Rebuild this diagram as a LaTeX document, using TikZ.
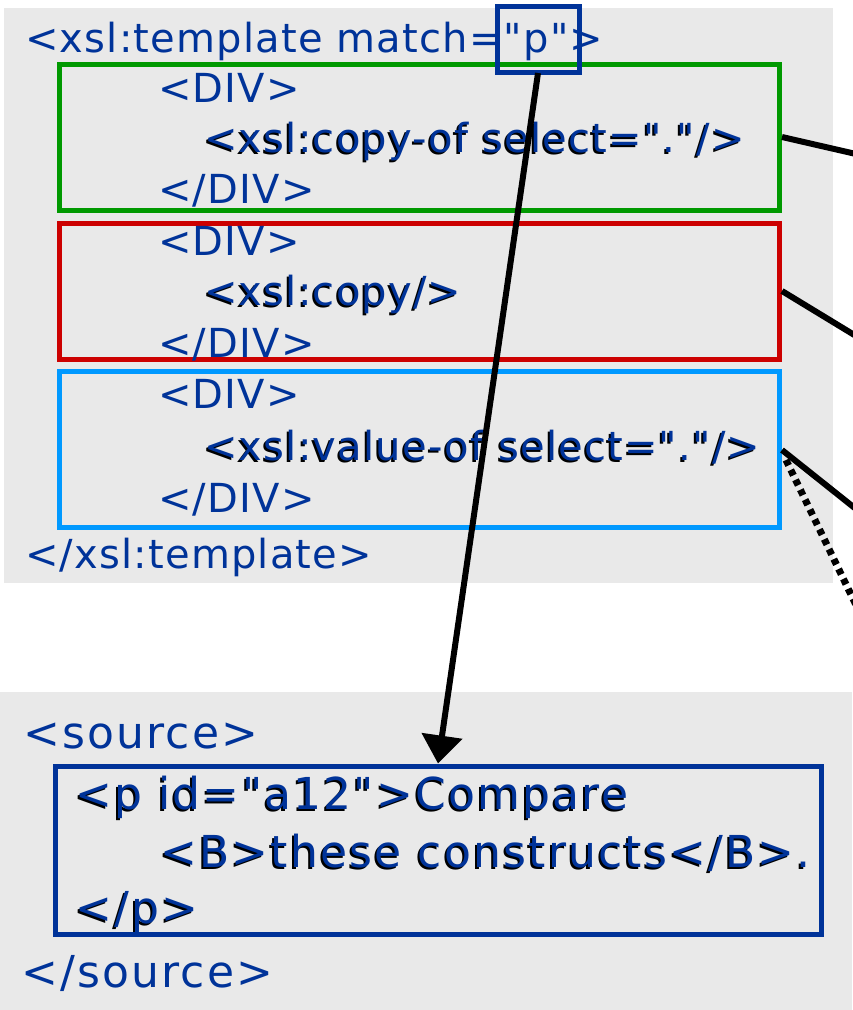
\documentclass[tikz,border=0pt]{standalone}
\usepackage{fontspec}
\setmainfont{DejaVu Sans}
\newfontfamily\codefont[LetterSpace=3]{DejaVu Sans}
\newfontfamily\srcfont[LetterSpace=5]{DejaVu Sans}
\usetikzlibrary{arrows.meta}
\definecolor{codeblue}{HTML}{003399}
\definecolor{panelgray}{HTML}{E9E9E9}
\definecolor{boxgreen}{HTML}{009900}
\definecolor{boxred}{HTML}{CC0000}
\definecolor{boxsky}{HTML}{0099FF}
\tikzset{
  panel/.style={fill=panelgray, draw=none},
  frame/.style={line width=5pt},
  code/.style={anchor=base west, inner sep=0pt, text=codeblue,
               font=\codefont\fontsize{40}{48}\selectfont},
  srccode/.style={code, font=\srcfont\fontsize{44}{52}\selectfont},
  link/.style={line width=6pt, line cap=butt},
  dotlink/.style={line width=7pt, dash pattern=on 6pt off 5pt},
  pointer/.style={line width=6pt, -{Triangle[width=40pt,length=28pt]}},
}
% text with a dark drop shadow to the lower left
\newcommand{\shadowtext}[5]{%
  \node[#1, text=black] at (#2-2,#3+2) {#5};
  \node[#1] (#4) at (#2,#3) {#5};}
\begin{document}
\begin{tikzpicture}[x=1pt, y=-1pt]
\useasboundingbox (0,0) rectangle (852,1010);

% grey panels
\fill[panel] (4,8) rectangle (833,583);
\fill[panel] (0,692) rectangle (852,1010);

% coloured frames around the three DIV blocks
\draw[frame, boxgreen] (59.5,64.5) rectangle (779.5,210);
\draw[frame, boxred] (59.5,223) rectangle (779.5,359);
\draw[frame, boxsky] (59.5,371.5) rectangle (779.5,527);

% template text
\node[code] (tpl) at (25,52) {<xsl:template match="p">};
\node[code] (d1o) at (158,102) {<DIV>};
\shadowtext{code}{204}{152}{cpo}{<xsl:copy-of select="."/>}
\node[code] (d1c) at (158,203) {</DIV>};
\node[code] (d2o) at (158,255) {<DIV>};
\shadowtext{code}{204}{305}{cpy}{<xsl:copy/>}
\node[code] (d2c) at (158,357) {</DIV>};
\node[code] (d3o) at (158,408) {<DIV>};
\shadowtext{code}{204}{460}{vof}{<xsl:value-of select="."/>}
\node[code] (d3c) at (158,512) {</DIV>};
\node[code] (tplc) at (25,568) {</xsl:template>};

% frame around the match pattern
\node[draw=codeblue, line width=5pt, minimum width=82pt, minimum height=66pt,
      inner sep=0pt] (pat) at (538.5,39.5) {};

% source document
\node[srccode] (srco) at (23,748) {<source>};
\shadowtext{srccode}{75}{809}{p1}{<p id="a12">Compare}
\shadowtext{srccode}{160}{867}{p2}{<B>these constructs</B>.}
\shadowtext{srccode}{75}{923}{p3}{</p>}
\node[srccode] (srcc) at (21,987) {</source>};
\node[draw=codeblue, line width=5pt, minimum width=766pt, minimum height=168pt,
      inner sep=0pt] (para) at (438,850) {};

% connectors
\coordinate (gA) at (782,137);
\coordinate (gB) at (856,154);
\coordinate (rA) at (782,291);
\coordinate (rB) at (856,336);
\coordinate (bA) at (782,450);
\coordinate (bB) at (856,509);
\coordinate (dA) at (786,460);
\coordinate (dB) at (856,605);
\coordinate (pA) at (538,73);
\draw[link] (gA) -- (gB);
\draw[link] (rA) -- (rB);
\draw[link] (bA) -- (bB);
\draw[dotlink] (dA) -- (dB);
\draw[pointer] (pA) -- (para.north);
\end{tikzpicture}
\end{document}
